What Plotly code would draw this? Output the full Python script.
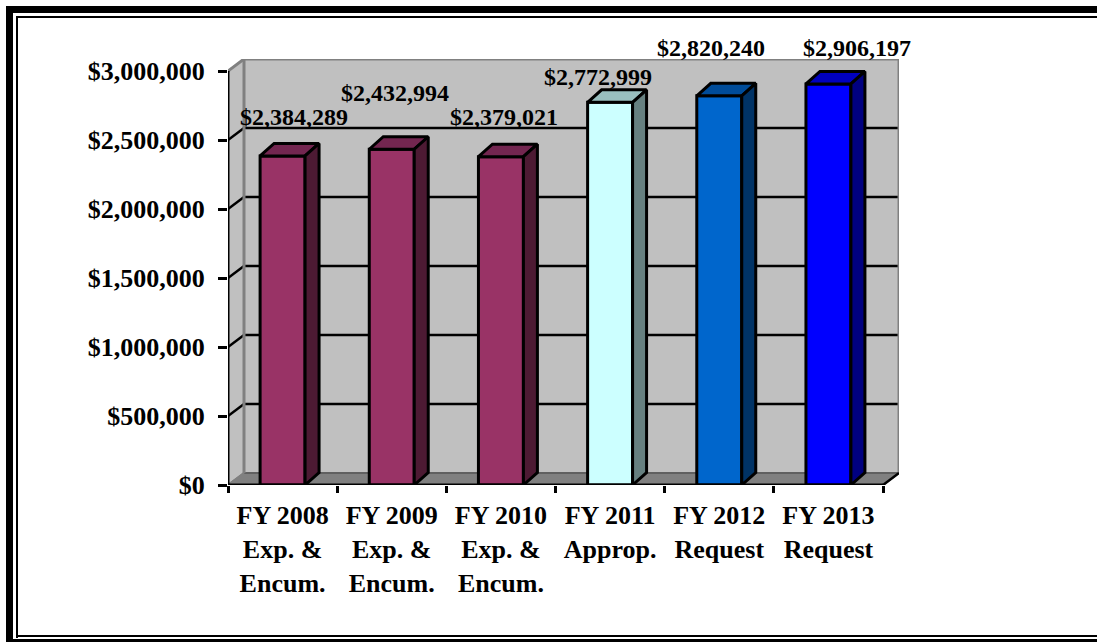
import plotly.graph_objects as go

categories = ["FY 2008<br>Exp. &<br>Encum.", "FY 2009<br>Exp. &<br>Encum.", "FY 2010<br>Exp. &<br>Encum.",
              "FY 2011<br>Approp.", "FY 2012<br>Request", "FY 2013<br>Request"]
values = [2384289, 2432994, 2379021, 2772999, 2820240, 2906197]
y_ticks = [0, 500000, 1000000, 1500000, 2000000, 2500000, 3000000]

front_colors = ["#993366", "#993366", "#993366", "#CCFFFF", "#0066CC", "#0000FF"]
top_colors = ["#732650", "#732650", "#732650", "#99BFBF", "#004C99", "#0000BF"]
side_colors = ["#4D1A33", "#4D1A33", "#4D1A33", "#668080", "#003366", "#000080"]
label_dx = [11, 3, 3, -12, -8, 29]
label_dy = [39, 56, 40, 25, 48, 36]

W, H = 1097, 642
L, R, T, B = 228, 899, 59, 485
PX_X = 109.17
PX_Y = 138e-6
n = len(values)
wx, wy = 16 / PX_X, 12 / PX_Y      # wall depth
bx, by = 14 / PX_X, 12.5 / PX_Y    # bar depth
bw = 0.412
xmax = (R - L) / PX_X
ymax = (B - T) / PX_Y
FONT = "Liberation Serif"
LW = 3


def path(pts):
    return "M " + " L ".join(f"{a},{b}" for a, b in pts) + " Z"


def poly(pts, fill, line=None, w=2):
    return dict(type="path", xref="x", yref="y", layer="below", path=path(pts), fillcolor=fill,
                line=dict(color=line or fill, width=w))


def seg(x0, y0, x1, y1, color="#000000", w=2.5):
    return dict(type="line", xref="x", yref="y", layer="below", x0=x0, y0=y0, x1=x1, y1=y1,
                line=dict(color=color, width=w))


def frame(x0, y0, x1, y1):
    return dict(type="rect", xref="paper", yref="paper", layer="above",
                x0=(x0 - L) / (R - L), x1=(x1 - L) / (R - L),
                y0=(B - y0) / (B - T), y1=(B - y1) / (B - T),
                fillcolor="#000000", line=dict(width=0))


top = y_ticks[-1]
shapes = [
    poly([(wx, wy), (n + wx, wy), (n + wx, top + wy), (wx, top + wy)], "#C0C0C0"),
    poly([(0, 0), (wx, wy), (wx, top + wy), (0, top)], "#C0C0C0"),
    poly([(0, 0), (n, 0), (n + wx, wy), (wx, wy)], "#808080"),
]
for v in y_ticks[1:-1]:
    shapes.append(seg(wx, v + wy, n + wx, v + wy))
    shapes.append(seg(0, v, wx, v + wy))
shapes += [
    seg(wx, wy, n + wx, wy, "#606060", 2),
    seg(wx, wy, wx, top + wy, "#808080", 3),
    seg(wx, top + wy, n + wx, top + wy, "#808080", 3),
    seg(n + wx, wy, n + wx, top + wy, "#808080", 3),
    seg(0, top, wx, top + wy, "#808080", 3),
    seg(0, 0, wx, wy, "#808080", 2),
    seg(n, 0, n + wx, wy),
]
# page frame: open on the right
shapes += [
    frame(6, 6, 13, 642), frame(6, 6, 1097, 13),
    frame(16, 16, 18, 638), frame(16, 16, 1097, 18),
    frame(16, 635, 1097, 637), frame(6, 639, 1097, 642),
]

fig = go.Figure()
centers = [i + 0.5 for i in range(n)]
fig.add_trace(go.Bar(x=centers, y=values, width=bw,
                     marker=dict(color=front_colors, line=dict(color="#000000", width=LW)),
                     hoverinfo="skip", showlegend=False))
for c, v, tc, sc in zip(centers, values, top_colors, side_colors):
    x0, x1 = c - bw / 2, c + bw / 2
    fig.add_trace(go.Scatter(x=[x0, x1, x1 + bx, x0 + bx, x0], y=[v, v, v + by, v + by, v], mode="lines",
                             fill="toself", fillcolor=tc, line=dict(color="#000000", width=LW),
                             hoverinfo="skip", showlegend=False))
    fig.add_trace(go.Scatter(x=[x1, x1 + bx, x1 + bx, x1, x1], y=[0, by, v + by, v, 0], mode="lines",
                             fill="toself", fillcolor=sc, line=dict(color="#000000", width=LW),
                             hoverinfo="skip", showlegend=False))
# axis lines
fig.add_trace(go.Scatter(x=[0, n], y=[0, 0], mode="lines", line=dict(color="#000000", width=LW),
                         cliponaxis=False, hoverinfo="skip", showlegend=False))
fig.add_trace(go.Scatter(x=[0, 0], y=[0, top], mode="lines", line=dict(color="#000000", width=LW),
                         cliponaxis=False, hoverinfo="skip", showlegend=False))

annotations = [
    dict(x=c, y=v, xref="x", yref="y", text=f"${v:,}", showarrow=False, xanchor="center", yanchor="middle",
         xshift=dx, yshift=dy, font=dict(family=FONT, size=24, color="#000000", weight="bold"))
    for c, v, dx, dy in zip(centers, values, label_dx, label_dy)
]

fig.update_layout(
    width=W, height=H, margin=dict(l=L, r=W - R, t=T, b=H - B, pad=0),
    paper_bgcolor="#FFFFFF", plot_bgcolor="#FFFFFF", showlegend=False,
    shapes=shapes, annotations=annotations,
    xaxis=dict(range=[0, xmax], tickmode="array", tickvals=centers, ticktext=categories, ticks="outside",
               ticklen=0, showgrid=False, zeroline=False, showline=False, ticklabelstandoff=7,
               tickfont=dict(family=FONT, size=26, color="#000000", weight="bold"),
               minor=dict(tickmode="array", tickvals=list(range(n + 1)), ticks="outside", ticklen=7,
                          tickwidth=2.5, tickcolor="#000000", showgrid=False)),
    yaxis=dict(range=[0, ymax], tickmode="array", tickvals=y_ticks, ticktext=[f"${v:,}" for v in y_ticks],
               ticks="outside", ticklen=9, tickwidth=2.5, tickcolor="#000000", showgrid=False, zeroline=False,
               showline=False, ticklabelstandoff=8,
               tickfont=dict(family=FONT, size=26, color="#000000", weight="bold")),
)
fig.write_html("out.html", config={"displayModeBar": False},
               post_script="document.body.style.margin='0';document.documentElement.style.overflow='hidden';")
